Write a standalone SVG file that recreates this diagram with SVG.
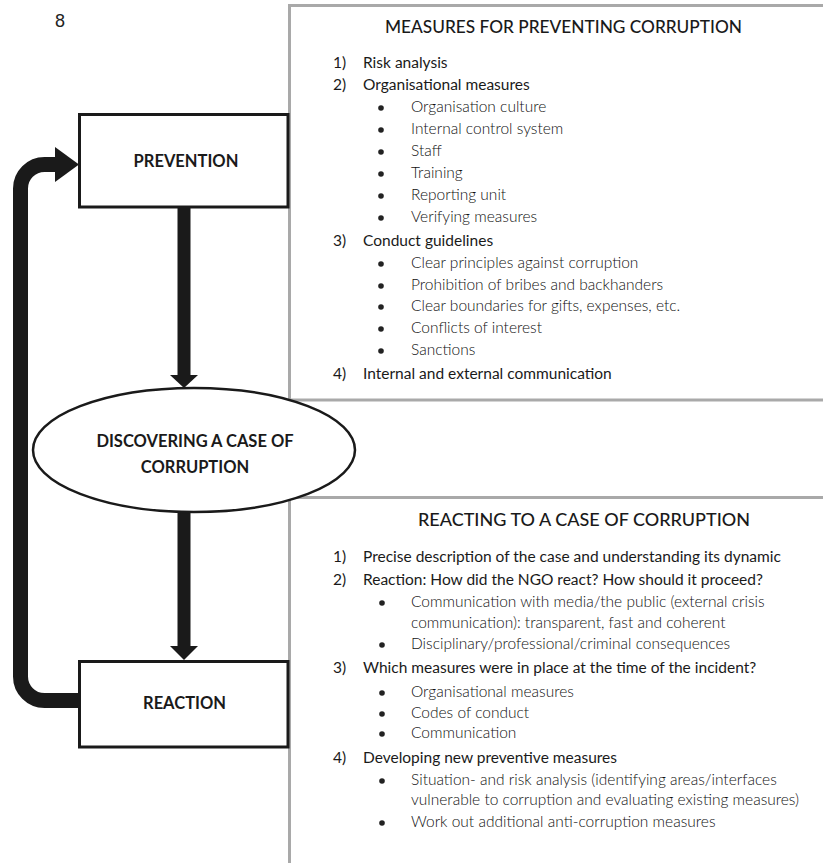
<svg xmlns="http://www.w3.org/2000/svg" width="823" height="863" viewBox="0 0 823 863">
<style>
  .panel{fill:none;stroke:#a9a9a9;stroke-width:3}
  .box{fill:#fff;stroke:#1a1a1a;stroke-width:3}
  .lbl{font-family:Lato,"Liberation Sans",sans-serif;font-size:16.5px;font-weight:700;fill:#1a1a1a;text-anchor:middle}
  .ttl{font-family:Lato,"Liberation Sans",sans-serif;font-size:18px;font-weight:500;fill:#1a1a1a}
  .num{font-family:Lato,"Liberation Sans",sans-serif;font-size:15.5px;font-weight:400;fill:#1a1a1a}
  .sub{font-family:Lato,"Liberation Sans",sans-serif;font-size:15.5px;font-weight:300;fill:#111}
  .dot{fill:#222}
  .shaft{stroke:#1a1a1a;stroke-width:13;fill:none}
  .loop{stroke:#1a1a1a;stroke-width:15;fill:none}
  .head{fill:#1a1a1a}
</style>
<rect width="823" height="863" fill="#fff"/>
<text x="55" y="27" font-family="'Liberation Sans',Arial,sans-serif" font-size="18" fill="#222">8</text>

<g id="panel-prevention">
  <path class="panel" d="M823 5.5H289.5V400H823"/>
  <text class="ttl" x="385" y="33" textLength="357" lengthAdjust="spacingAndGlyphs">MEASURES FOR PREVENTING CORRUPTION</text>
  <text class="num" x="333" y="68">1)</text><text class="num" x="363" y="68">Risk analysis</text>
  <text class="num" x="333" y="90">2)</text><text class="num" x="363" y="90">Organisational measures</text>
  <circle class="dot" cx="381" cy="108" r="2.8"/><text class="sub" x="411" y="112">Organisation culture</text>
  <circle class="dot" cx="381" cy="130" r="2.8"/><text class="sub" x="411" y="134">Internal control system</text>
  <circle class="dot" cx="381" cy="152" r="2.8"/><text class="sub" x="411" y="156">Staff</text>
  <circle class="dot" cx="381" cy="174" r="2.8"/><text class="sub" x="411" y="178">Training</text>
  <circle class="dot" cx="381" cy="196" r="2.8"/><text class="sub" x="411" y="200">Reporting unit</text>
  <circle class="dot" cx="381" cy="218" r="2.8"/><text class="sub" x="411" y="222">Verifying measures</text>
  <text class="num" x="333" y="246">3)</text><text class="num" x="363" y="246">Conduct guidelines</text>
  <circle class="dot" cx="381" cy="264" r="2.8"/><text class="sub" x="411" y="268">Clear principles against corruption</text>
  <circle class="dot" cx="381" cy="286" r="2.8"/><text class="sub" x="411" y="290">Prohibition of bribes and backhanders</text>
  <circle class="dot" cx="381" cy="307" r="2.8"/><text class="sub" x="411" y="311">Clear boundaries for gifts, expenses, etc.</text>
  <circle class="dot" cx="381" cy="329" r="2.8"/><text class="sub" x="411" y="333">Conflicts of interest</text>
  <circle class="dot" cx="381" cy="351" r="2.8"/><text class="sub" x="411" y="355">Sanctions</text>
  <text class="num" x="333" y="379">4)</text><text class="num" x="363" y="379">Internal and external communication</text>
</g>

<g id="panel-reaction">
  <path class="panel" d="M823 497.5H289.5V863"/>
  <text class="ttl" x="418" y="526" textLength="332" lengthAdjust="spacingAndGlyphs">REACTING TO A CASE OF CORRUPTION</text>
  <text class="num" x="333" y="562">1)</text><text class="num" x="363" y="562">Precise description of the case and understanding its dynamic</text>
  <text class="num" x="333" y="585">2)</text><text class="num" x="363" y="585">Reaction: How did the NGO react? How should it proceed?</text>
  <circle class="dot" cx="382" cy="603" r="2.8"/><text class="sub" x="411" y="607">Communication with media/the public (external crisis</text>
  <text class="sub" x="411" y="628">communication): transparent, fast and coherent</text>
  <circle class="dot" cx="382" cy="645" r="2.8"/><text class="sub" x="411" y="649">Disciplinary/professional/criminal consequences</text>
  <text class="num" x="333" y="673">3)</text><text class="num" x="363" y="673">Which measures were in place at the time of the incident?</text>
  <circle class="dot" cx="382" cy="693" r="2.8"/><text class="sub" x="411" y="697">Organisational measures</text>
  <circle class="dot" cx="382" cy="714" r="2.8"/><text class="sub" x="411" y="718">Codes of conduct</text>
  <circle class="dot" cx="382" cy="734" r="2.8"/><text class="sub" x="411" y="738">Communication</text>
  <text class="num" x="333" y="763">4)</text><text class="num" x="363" y="763">Developing new preventive measures</text>
  <circle class="dot" cx="382" cy="781" r="2.8"/><text class="sub" x="411" y="785">Situation- and risk analysis (identifying areas/interfaces</text>
  <text class="sub" x="411" y="805">vulnerable to corruption and evaluating existing measures)</text>
  <circle class="dot" cx="382" cy="823" r="2.8"/><text class="sub" x="411" y="827">Work out additional anti-corruption measures</text>
</g>

<g id="connectors">
  <line class="shaft" x1="184" y1="207" x2="184" y2="376"/>
  <polygon class="head" points="170,375 198,375 184,388"/>
  <line class="shaft" x1="184" y1="511" x2="184" y2="647"/>
  <polygon class="head" points="170,646 198,646 184,660"/>
  <path class="loop" d="M80 700.5H44.5A24 24 0 0 1 20.5 676.5V188.5A24 24 0 0 1 44.5 164.5H56"/>
  <polygon class="head" points="55,147 79,164.5 55,182"/>
</g>

<g id="prevention">
  <rect class="box" x="79.5" y="114.5" width="208.5" height="92.5"/>
  <text class="lbl" x="186" y="167">PREVENTION</text>
</g>

<g id="discovering">
  <ellipse cx="194" cy="450" rx="161" ry="62" fill="#fff" stroke="#1a1a1a" stroke-width="2.5"/>
  <text class="lbl" x="195" y="447">DISCOVERING A CASE OF</text>
  <text class="lbl" x="195" y="473">CORRUPTION</text>
</g>

<g id="reaction">
  <rect class="box" x="79.5" y="661.5" width="208.5" height="85.5"/>
  <text class="lbl" x="184.5" y="709">REACTION</text>
</g>
</svg>
